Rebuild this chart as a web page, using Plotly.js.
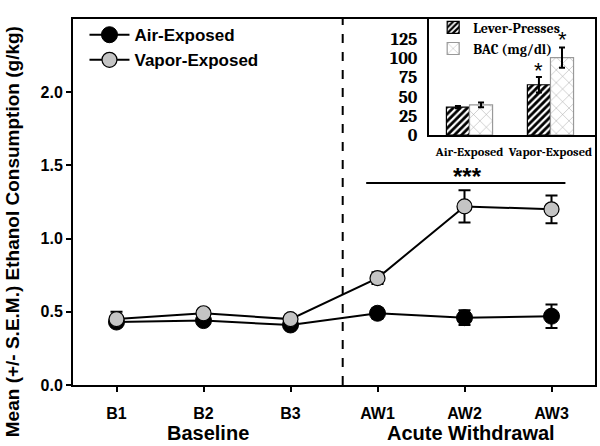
<!DOCTYPE html>
<html>
<head>
<meta charset="utf-8">
<script src="https://cdn.plot.ly/plotly-3.0.1.min.js"></script>
<style>html,body{margin:0;padding:0;background:#fff;}#chart{width:600px;height:446px;}</style>
</head>
<body>
<div id="chart"></div>
<script>
// Main chart data
const sessions = ["B1", "B2", "B3", "AW1", "AW2", "AW3"];
const airMean = [0.43, 0.44, 0.41, 0.49, 0.46, 0.47];
const airSem = [0.02, 0.02, 0.02, 0.035, 0.05, 0.08];
const vaporMean = [0.45, 0.49, 0.45, 0.73, 1.22, 1.20];
const vaporSem = [0.05, 0.02, 0.03, 0.04, 0.11, 0.095];
const groupLabels = ["Baseline", "Acute Withdrawal"];
// Inset data
const insetGroups = ["Air-Exposed", "Vapor-Exposed"];
const leverPresses = [36, 65];
const leverSem = [1.5, 10];
const bacValues = [39, 100];
const bacSem = [3, 13];

const sans = "Arial, 'Liberation Sans', sans-serif";
const serif = "Cambria, 'Liberation Serif', 'DejaVu Serif', serif";

const traces = [
  {
    x: sessions, y: airMean, name: "Air-Exposed", type: "scatter", mode: "lines+markers",
    line: {color: "#000", width: 2},
    marker: {color: "#000", size: 16, line: {color: "#000", width: 1}},
    error_y: {type: "data", array: airSem, visible: true, color: "#000", thickness: 2, width: 6},
    xaxis: "x", yaxis: "y", legend: "legend"
  },
  {
    x: sessions, y: vaporMean, name: "Vapor-Exposed", type: "scatter", mode: "lines+markers",
    line: {color: "#000", width: 2},
    marker: {color: "#c4c4c4", size: 15, line: {color: "#000", width: 1.2}},
    error_y: {type: "data", array: vaporSem, visible: true, color: "#000", thickness: 2, width: 6},
    xaxis: "x", yaxis: "y", legend: "legend"
  },
  {
    x: insetGroups, y: leverPresses, name: "Lever-Presses", type: "bar",
    marker: {color: "#fff", line: {color: "#000", width: 1.2},
      pattern: {shape: "/", fgcolor: "#000", bgcolor: "#fff", size: 5, solidity: 0.55}},
    error_y: {type: "data", array: leverSem, visible: true, color: "#000", thickness: 2, width: 3},
    xaxis: "x2", yaxis: "y2", legend: "legend2"
  },
  {
    x: insetGroups, y: bacValues, name: "BAC (mg/dl)", type: "bar",
    marker: {color: "#fff", line: {color: "#999", width: 1.2},
      pattern: {shape: "x", fgcolor: "#9a9a9a", bgcolor: "#fff", size: 9, solidity: 0.1}},
    error_y: {type: "data", array: bacSem, visible: true, color: "#000", thickness: 2, width: 3},
    xaxis: "x2", yaxis: "y2", legend: "legend2"
  }
];

const layout = {
  width: 600, height: 446,
  margin: {l: 73, r: 5, t: 19, b: 61},
  paper_bgcolor: "#fff", plot_bgcolor: "#fff",
  font: {family: sans, color: "#000", size: 16},
  showlegend: true,
  barmode: "group", bargap: 0.43, bargroupgap: 0,
  xaxis: {
    domain: [0, 1], range: [-0.5, 5.5], type: "category",
    showline: true, linecolor: "#000", linewidth: 2, mirror: true,
    ticks: "outside", ticklen: 5, tickwidth: 2, tickcolor: "#000",
    tickfont: {family: sans, size: 16, weight: "bold"}, ticklabelstandoff: 8,
    showgrid: false, zeroline: false, fixedrange: true
  },
  yaxis: {
    domain: [0, 1], range: [0, 2.5],
    tickvals: [0, 0.5, 1.0, 1.5, 2.0], ticktext: ["0.0", "0.5", "1.0", "1.5", "2.0"],
    showline: true, linecolor: "#000", linewidth: 2, mirror: true,
    ticks: "outside", ticklen: 5, tickwidth: 2, tickcolor: "#000",
    tickfont: {family: sans, size: 16, weight: "bold"},
    showgrid: false, zeroline: false, fixedrange: true
  },
  xaxis2: {
    domain: [0.682, 1], anchor: "y2", range: [-0.5, 1.55], type: "category",
    showline: true, linecolor: "#000", linewidth: 2, tickangle: 0,
    ticks: "", tickfont: {family: serif, size: 12.5, weight: "bold"}, ticklabelstandoff: 4,
    showgrid: false, zeroline: false, fixedrange: true
  },
  yaxis2: {
    domain: [0.683, 1], anchor: "x2", range: [0, 150],
    tickvals: [0, 25, 50, 75, 100, 125],
    showline: true, linecolor: "#000", linewidth: 2,
    ticks: "", tickfont: {family: serif, size: 18, weight: "bold"}, ticklabelstandoff: 6,
    showgrid: false, zeroline: false, fixedrange: true
  },
  legend: {
    x: 0.022, y: 1.005, xanchor: "left", yanchor: "top",
    bgcolor: "rgba(255,255,255,0)", borderwidth: 0,
    font: {family: sans, size: 17, weight: "bold"}, tracegroupgap: 0, itemwidth: 40
  },
  legend2: {
    x: 0.69, y: 1.02, xanchor: "left", yanchor: "top",
    bgcolor: "rgba(255,255,255,0)", borderwidth: 0,
    font: {family: serif, size: 14, weight: "bold"}, tracegroupgap: 0
  },
  shapes: [
    {type: "line", xref: "x", yref: "y", x0: 2.6, x1: 2.6, y0: 0, y1: 2.5,
      line: {color: "#000", width: 2, dash: "dash"}},
    {type: "line", xref: "x", yref: "y", x0: 2.87, x1: 5.16, y0: 1.38, y1: 1.38,
      line: {color: "#000", width: 2}}
  ],
  annotations: [
    {text: "***", xref: "x", yref: "y", x: 4.03, y: 1.425, yanchor: "middle",
      showarrow: false, font: {family: sans, size: 24, weight: "bold"}},
    {text: "Mean (+/- S.E.M.) Ethanol Consumption (g/kg)", xref: "paper", yref: "paper",
      x: -0.117, y: 0.42, xanchor: "center", yanchor: "middle", textangle: -90,
      showarrow: false, font: {family: sans, size: 19, weight: "bold"}},
    {text: groupLabels[0], xref: "x", yref: "paper", x: 1.05, y: -0.13, yanchor: "middle",
      showarrow: false, font: {family: sans, size: 20, weight: "bold"}},
    {text: groupLabels[1], xref: "x", yref: "paper", x: 4.07, y: -0.13, yanchor: "middle",
      showarrow: false, font: {family: sans, size: 20, weight: "bold"}},
    {text: "*", xref: "x2", yref: "y2", x: 0.8575, y: 84, yanchor: "middle",
      showarrow: false, font: {family: sans, size: 22}},
    {text: "*", xref: "x2", yref: "y2", x: 1.1425, y: 123, yanchor: "middle",
      showarrow: false, font: {family: sans, size: 22}}
  ]
};

Plotly.newPlot("chart", traces, layout, {displayModeBar: false, staticPlot: true});
</script>
</body>
</html>
